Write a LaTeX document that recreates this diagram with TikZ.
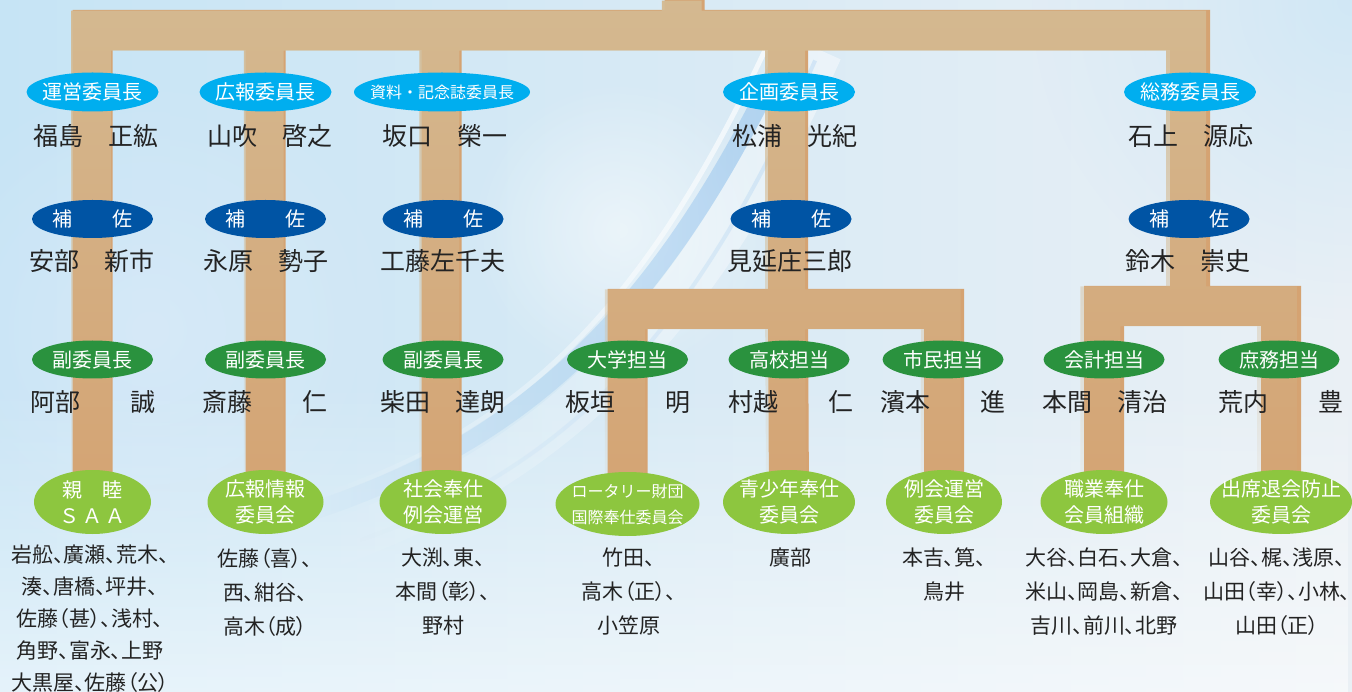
\documentclass[tikz,border=0pt]{standalone}
\usepackage{fontspec}
\setmainfont{Noto Sans CJK JP}
\newfontfamily\jpp[RawFeature=+palt]{Noto Sans CJK JP}
\usetikzlibrary{fadings,shapes.geometric}
\definecolor{bgL}{RGB}{198,228,245}
\definecolor{bgR}{RGB}{234,240,245}
\definecolor{swooshC}{RGB}{140,190,236}
\definecolor{tanHi}{RGB}{212,186,146}
\definecolor{tanLo}{RGB}{213,163,114}
\definecolor{chairC}{RGB}{0,174,239}
\definecolor{hosaC}{RGB}{0,84,164}
\definecolor{subC}{RGB}{42,146,62}
\definecolor{comC}{RGB}{141,198,63}
\definecolor{inkC}{RGB}{35,35,35}
\tikzfading[name=barfade, top color=transparent!0, bottom color=transparent!100]
\tikzfading[name=downfade, top color=transparent!100, bottom color=transparent!0]
\tikzfading[name=leftfade, left color=transparent!100, right color=transparent!0]
\tikzfading[name=glow, inner color=transparent!0, outer color=transparent!100]
\pgfdeclarelayer{bgl}
\pgfdeclarelayer{barl}
\pgfsetlayers{bgl,barl,main}
\tikzset{
  oval/.style={ellipse, inner xsep=-14pt, inner ysep=-2pt, text=white},
  chair/.style={oval, fill=chairC, minimum width=132pt, minimum height=39pt, font=\fontsize{20}{24}\selectfont},
  hosa/.style={oval, fill=hosaC, minimum width=121pt, minimum height=38pt, font=\fontsize{20}{24}\selectfont},
  vice/.style={oval, fill=subC, minimum width=121pt, minimum height=38pt, font=\fontsize{20}{24}\selectfont},
  comm/.style={oval, fill=comC, minimum height=64pt, align=center, font=\fontsize{20}{26}\selectfont},
  person/.style={text=inkC, inner sep=0pt, font=\fontsize{25}{30}\selectfont},
  members/.style={text=inkC, inner sep=0pt, anchor=north, align=center, font=\jpp\fontsize{21}{34}\selectfont},
  tanbar/.style={line width=40pt, line join=miter, line cap=butt}
}
\begin{document}
\begin{tikzpicture}[x=1pt,y=-1pt]
\useasboundingbox (0,0) rectangle (1352,692);
% background
\begin{pgfonlayer}{bgl}
\fill[left color=bgL, right color=bgR] (0,0) rectangle (1352,692);
\fill[white, opacity=0.55, path fading=downfade] (0,380) rectangle (1352,692);
\fill[bgL, opacity=0.7, path fading=glow] (1352,0) circle (320pt);
\fill[bgL!80!blue!20!white, opacity=0.35, path fading=glow] (150,330) circle (260pt);
\fill[white, opacity=0.5, path fading=glow] (620,230) circle (150pt);
\draw[white, opacity=0.45, line width=46pt, path fading=leftfade] (330,545) .. controls (540,470) and (690,340) .. (820,50);
\draw[swooshC, opacity=0.55, line width=18pt, path fading=leftfade] (300,515) .. controls (520,445) and (660,320) .. (790,40);
\draw[white, opacity=0.7, line width=5pt, path fading=leftfade] (320,496) .. controls (520,430) and (645,310) .. (770,40);
\draw[swooshC!70!white, opacity=0.4, line width=4pt, path fading=leftfade] (360,540) .. controls (560,470) and (690,345) .. (815,60);
\end{pgfonlayer}

% chairs
\node[chair] (ch1) at (92.5,92) {運営委員長};
\node[chair] (ch2) at (265.5,92) {広報委員長};
\node[chair, minimum width=176pt, font=\fontsize{16}{18}\selectfont] (ch3) at (442,92) {資料・記念誌委員長};
\node[chair] (ch4) at (789,92) {企画委員長};
\node[chair] (ch5) at (1190,92) {総務委員長};
\node[person] (n11) at (96,136) {福島　正紘};
\node[person] (n12) at (270,136) {山吹　啓之};
\node[person] (n13) at (445,136) {坂口　榮一};
\node[person] (n14) at (795,136) {松浦　光紀};
\node[person] (n15) at (1191,136) {石上　源応};
% hosa
\node[hosa] (h1) at (92.5,219) {補　　佐};
\node[hosa] (h2) at (265.5,219) {補　　佐};
\node[hosa] (h3) at (443,219) {補　　佐};
\node[hosa] (h4) at (791,219) {補　　佐};
\node[hosa] (h5) at (1189,219) {補　　佐};
\node[person] (n21) at (92,261) {安部　新市};
\node[person] (n22) at (266,261) {永原　勢子};
\node[person] (n23) at (443,261) {工藤左千夫};
\node[person] (n24) at (790,261) {見延庄三郎};
\node[person] (n25) at (1188,261) {鈴木　崇史};
% vice
\node[vice] (v1) at (92.5,359.5) {副委員長};
\node[vice] (v2) at (265.5,359.5) {副委員長};
\node[vice] (v3) at (443,359.5) {副委員長};
\node[vice] (v4) at (627.5,359.5) {大学担当};
\node[vice] (v5) at (789,359.5) {高校担当};
\node[vice] (v6) at (943,359.5) {市民担当};
\node[vice] (v7) at (1104,359.5) {会計担当};
\node[vice] (v8) at (1279,359.5) {庶務担当};
\node[person] (n31) at (93,402) {阿部　　誠};
\node[person] (n32) at (265,402) {斎藤　　仁};
\node[person] (n33) at (443,402) {柴田　達朗};
\node[person] (n34) at (628,402) {板垣　　明};
\node[person] (n35) at (791,402) {村越　　仁};
\node[person] (n36) at (943,402) {濱本　　進};
\node[person] (n37) at (1105,402) {本間　清治};
\node[person] (n38) at (1281,402) {荒内　　豊};
% committees
\node[comm, minimum width=117pt] (c1) at (92.5,502) {親　睦\\Ｓ\kern3ptＡ\kern3ptＡ};
\node[comm, minimum width=116pt] (c2) at (265.5,502) {広報情報\\委員会};
\node[comm, minimum width=127pt] (c3) at (443,502) {社会奉仕\\例会運営};
\node[comm, minimum width=144pt, font=\fontsize{16}{26}\selectfont] (c4) at (627.5,504) {ロータリー財団\\国際奉仕委員会};
\node[comm, minimum width=132pt] (c5) at (789,502) {青少年奉仕\\委員会};
\node[comm, minimum width=116pt] (c6) at (944,502) {例会運営\\委員会};
\node[comm, minimum width=127pt] (c7) at (1104,502) {職業奉仕\\会員組織};
\node[comm, minimum width=142pt] (c8) at (1281,502) {出席退会防止\\委員会};
% member lists
\node[members, font=\jpp\fontsize{21}{32}\selectfont] (m1) at (90,545) {岩舩、廣瀬、荒木、\\湊、唐橋、坪井、\\佐藤（甚）、浅村、\\角野、富永、上野\\大黒屋、佐藤（公）};
\node[members] (m2) at (265,548) {佐藤（喜）、\\西、紺谷、\\高木（成）};
\node[members] (m3) at (443,548) {大渕、東、\\本間（彰）、\\野村};
\node[members] (m4) at (629,548) {竹田、\\高木（正）、\\小笠原};
\node[members] (m5) at (790,548) {廣部};
\node[members] (m6) at (944,548) {本吉、筧、\\鳥井};
\node[members] (m7) at (1104,548) {大谷、白石、大倉、\\米山、岡島、新倉、\\吉川、前川、北野};
\node[members] (m8) at (1277,548) {山谷、梶、浅原、\\山田（幸）、小林、\\山田（正）};

% bar coordinates
\coordinate (root) at (684.5,0);
\coordinate (rootj) at (684.5,30);
\coordinate (tl) at (92.5,30);
\coordinate (tr) at (1190,30);
\coordinate (k4) at (788,30);
\coordinate (k2) at (265.5,30);
\coordinate (k3) at (441.5,30);
\coordinate (bk) at (788,309);
\coordinate (bkl) at (627.5,309);
\coordinate (bkr) at (944,309);
\coordinate (bs) at (1190,306);
\coordinate (bsl) at (1104,306);
\coordinate (bsr) at (1281,306);

\begin{pgfonlayer}{barl}
\draw[tanbar, draw=tanLo]
  (root) -- (rootj)
  (c1.center) -- (tl) -- (tr) -- (bs)
  (k2) -- (c2.center)
  (k3) -- (k3 |- c3.center)
  (k4) -- (bk)
  (c4.center) -- (bkl) -- (bkr) -- (c6.center)
  (bk) -- (c5.center)
  (c7.center) -- (bsl) -- (bsr) -- (c8.center);
\draw[tanbar, draw=tanHi, path fading=barfade]
  (root) -- (rootj)
  (c1.center) -- (tl) -- (tr) -- (bs)
  (k2) -- (c2.center)
  (k3) -- (k3 |- c3.center)
  (k4) -- (bk)
  (c4.center) -- (bkl) -- (bkr) -- (c6.center)
  (bk) -- (c5.center)
  (c7.center) -- (bsl) -- (bsr) -- (c8.center);
\end{pgfonlayer}
\end{tikzpicture}
\end{document}
